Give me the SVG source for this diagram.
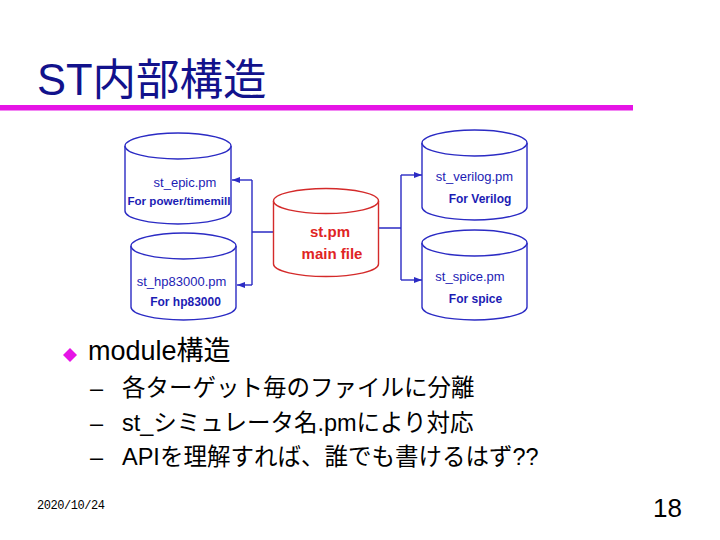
<svg xmlns="http://www.w3.org/2000/svg" width="720" height="540" viewBox="0 0 720 540">
<style>
.cyl{fill:#ffffff;stroke:#2b2bc4;stroke-width:1.4}
.cylr{fill:#ffffff;stroke:#d42a2a;stroke-width:1.4}
.lbl{font-family:"Liberation Sans",Arial,sans-serif;font-size:13px;fill:#1c1cb4;text-anchor:middle}
.lblb{font-family:"Liberation Sans",Arial,sans-serif;font-size:12px;font-weight:bold;fill:#1c1cb4;text-anchor:middle}
.red{font-family:"Liberation Sans",Arial,sans-serif;font-size:15px;font-weight:bold;fill:#e02424;text-anchor:middle}
.conn{fill:none;stroke:#2b2bc4;stroke-width:1.4}
.jp{font-family:"Liberation Sans","Noto Sans CJK JP",sans-serif;fill:#000000}
.sub{font-size:23.5px}
</style>
<defs>
<marker id="ah" markerUnits="userSpaceOnUse" markerWidth="8" markerHeight="8" viewBox="0 0 8 8" refX="8" refY="4" orient="auto">
<path d="M0,1 L8,4 L0,7 Z" fill="#2b2bc4"/>
</marker>
</defs>
<rect width="720" height="540" fill="#ffffff"/>
<text x="37" y="95" class="jp" style="font-size:43.5px;fill:#12128c">ST内部構造</text>
<rect x="0" y="105" width="633" height="5.5" fill="#e614e6"/>

<g id="connectors">
<path class="conn" d="M274,232 H252 M252,180 V285"/>
<path class="conn" d="M252,180 H232" marker-end="url(#ah)"/>
<path class="conn" d="M252,285 H237" marker-end="url(#ah)"/>
<path class="conn" d="M378,228 H401 M401,175 V280"/>
<path class="conn" d="M401,175 H422" marker-end="url(#ah)"/>
<path class="conn" d="M401,280 H422" marker-end="url(#ah)"/>
</g>

<g id="st_epic">
<path class="cyl" d="M125,146 V211 A53,13 0 0 0 231,211 V146"/>
<ellipse class="cyl" cx="178" cy="146" rx="53" ry="13"/>
<text class="lbl" x="185" y="187">st_epic.pm</text>
<text class="lblb" x="179" y="205" style="font-size:11.6px">For power/timemill</text>
</g>

<g id="st_hp83000">
<path class="cyl" d="M131,246 V307 A52.5,13 0 0 0 236,307 V246"/>
<ellipse class="cyl" cx="183.5" cy="246" rx="52.5" ry="13"/>
<text class="lbl" x="181.5" y="286">st_hp83000.pm</text>
<text class="lblb" x="185.5" y="306">For hp83000</text>
</g>

<g id="st_pm">
<path class="cylr" d="M273.5,201 V264 A52.5,12.5 0 0 0 378.5,264 V201"/>
<ellipse class="cylr" cx="326" cy="201" rx="52.5" ry="12.5"/>
<text class="red" x="330" y="237">st.pm</text>
<text class="red" x="332" y="259">main file</text>
</g>

<g id="st_verilog">
<path class="cyl" d="M422,143 V207 A52.5,13 0 0 0 527,207 V143"/>
<ellipse class="cyl" cx="474.5" cy="143" rx="52.5" ry="13"/>
<text class="lbl" x="474.5" y="181">st_verilog.pm</text>
<text class="lblb" x="480" y="203">For Verilog</text>
</g>

<g id="st_spice">
<path class="cyl" d="M422,243 V307 A52.5,13 0 0 0 527,307 V243"/>
<ellipse class="cyl" cx="474.5" cy="243" rx="52.5" ry="13"/>
<text class="lbl" x="470" y="281">st_spice.pm</text>
<text class="lblb" x="475.5" y="303">For spice</text>
</g>

<path d="M70,348 L77,355 L70,362 L63,355 Z" fill="#e614e6"/>
<text x="88" y="360" class="jp" style="font-size:27px">module構造</text>
<text x="90" y="396" class="jp sub">–</text>
<text x="122" y="396" class="jp sub">各ターゲット毎のファイルに分離</text>
<text x="90" y="431" class="jp sub">–</text>
<text x="122" y="431" class="jp sub">st_シミュレータ名.pmにより対応</text>
<text x="90" y="465" class="jp sub">–</text>
<text x="122" y="465" class="jp sub">APIを理解すれば、誰でも書けるはず??</text>
<text x="37" y="509" style="font-family:'Liberation Mono','DejaVu Sans Mono',monospace;font-size:12px;fill:#000000" textLength="68">2020/10/24</text>
<text x="653" y="517" style="font-family:'Liberation Sans',Arial,sans-serif;font-size:26px;fill:#000000">18</text>
</svg>
